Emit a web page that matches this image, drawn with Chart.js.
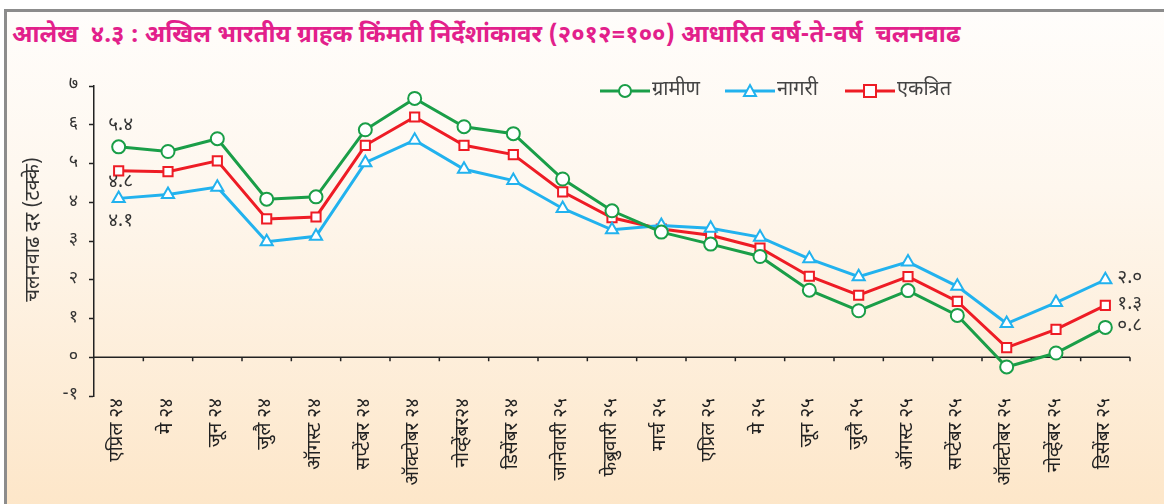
<!DOCTYPE html>
<html>
<head>
<meta charset="utf-8">
<script src="https://cdn.jsdelivr.net/npm/chart.js@4"></script>
<style>
  body { margin: 0; background: #fff; }
  #wrap { position: relative; width: 1164px; height: 504px; overflow: hidden; }
  #frame {
    position: absolute; left: 4px; top: 9px; right: -10px; bottom: -10px;
    border-left: 3px solid #8c8c8c; border-top: 3px solid #8c8c8c;
    background: linear-gradient(#fffdfb 0%, #fef7ee 35%, #fde6c8 100%);
  }
  #title {
    position: absolute; left: 12px; top: 20px;
    font: bold 24px "Noto Sans Devanagari", "Noto Sans", sans-serif;
    color: #e2208b; white-space: nowrap; line-height: 32px;
  }
  canvas { position: absolute; left: 0; top: 0; }
</style>
</head>
<body>
<div id="wrap">
  <div id="frame"></div>
  <div id="title">आलेख&nbsp; ४.३ : अखिल भारतीय ग्राहक किंमती निर्देशांकावर (२०१२=१००) आधारित वर्ष-ते-वर्ष&nbsp; चलनवाढ</div>
  <canvas id="chart" width="1164" height="504"></canvas>
</div>
<script>
const months = ["एप्रिल २४", "मे २४", "जून २४", "जुलै २४", "ऑगस्ट २४", "सप्टेंबर २४", "ऑक्टोबर २४",
  "नोव्हेंबर२४", "डिसेंबर २४", "जानेवारी २५", "फेब्रुवारी २५", "मार्च २५", "एप्रिल २५", "मे २५",
  "जून २५", "जुलै २५", "ऑगस्ट २५", "सप्टेंबर २५", "ऑक्टोबर २५", "नोव्हेंबर २५", "डिसेंबर २५"];

const rural = [5.43, 5.31, 5.64, 4.08, 4.14, 5.87, 6.68, 5.95, 5.77, 4.6, 3.78, 3.23, 2.92, 2.6, 1.73, 1.2, 1.72, 1.08, -0.25, 0.11, 0.77];
const urban = [4.1, 4.2, 4.39, 2.98, 3.12, 5.02, 5.6, 4.85, 4.56, 3.84, 3.29, 3.4, 3.33, 3.1, 2.54, 2.08, 2.46, 1.83, 0.87, 1.41, 2.0];
const combined = [4.81, 4.79, 5.07, 3.57, 3.62, 5.47, 6.2, 5.47, 5.23, 4.27, 3.6, 3.31, 3.15, 2.82, 2.09, 1.6, 2.08, 1.44, 0.25, 0.72, 1.34];

const yTickLabels = ["-१", "०", "१", "२", "३", "४", "५", "६", "७"];
const seriesNames = ["ग्रामीण", "नागरी", "एकत्रित"];
const yTitle = "चलनवाढ दर (टक्के)";

const devaDigits = "०१२३४५६७८९";
function toDeva(v) {
  return v.toFixed(1).replace(/[0-9]/g, d => devaDigits[+d]);
}

const FONT = '"Noto Sans Devanagari", "Noto Sans", sans-serif';
const GREEN = "#1a9e48", BLUE = "#22b2ee", RED = "#ee1c25";

// zero line with ticks at category boundaries, plus rotated y title
const zeroAxis = {
  id: "zeroAxis",
  beforeDatasetsDraw(chart) {
    const { ctx, chartArea, scales } = chart;
    const y0 = scales.y.getPixelForValue(0);
    ctx.save();
    ctx.strokeStyle = "#222";
    ctx.lineWidth = 1.5;
    ctx.beginPath();
    ctx.moveTo(chartArea.left, y0);
    ctx.lineTo(chartArea.right, y0);
    const n = months.length;
    for (let i = 0; i < n; i++) {
      const xb = i < n - 1 ? (scales.x.getPixelForValue(i) + scales.x.getPixelForValue(i + 1)) / 2 : chartArea.right;
      ctx.moveTo(xb, y0);
      ctx.lineTo(xb, y0 + 4);
    }
    ctx.stroke();

    ctx.translate(35, scales.y.getPixelForValue(3.3));
    ctx.rotate(-Math.PI / 2);
    ctx.font = "20px " + FONT;
    ctx.fillStyle = "#333";
    ctx.textAlign = "center";
    ctx.textBaseline = "middle";
    ctx.fillText(yTitle, 0, 0);
    ctx.restore();
  }
};

// value labels at first and last points
const endLabels = {
  id: "endLabels",
  afterDatasetsDraw(chart) {
    const { ctx } = chart;
    ctx.save();
    ctx.font = "19px " + FONT;
    ctx.fillStyle = "#333";
    chart.data.datasets.forEach((ds, i) => {
      const pts = chart.getDatasetMeta(i).data;
      const first = pts[0], last = pts[pts.length - 1];
      ctx.textAlign = "center";
      ctx.textBaseline = "middle";
      ctx.fillText(toDeva(ds.data[0]), first.x + 2, first.y + ds.firstLabelDy);
      ctx.textAlign = "left";
      ctx.fillText(toDeva(ds.data[ds.data.length - 1]), last.x + 12, last.y);
    });
    ctx.restore();
  }
};

// legend drawn as line-marker-line like the source
const lineLegend = {
  id: "lineLegend",
  afterDraw(chart) {
    const { ctx, chartArea } = chart;
    const starts = [506, 631, 751];
    const y = chartArea.top + 5;
    ctx.save();
    chart.data.datasets.forEach((ds, i) => {
      const x = chartArea.left + starts[i];
      ctx.strokeStyle = ds.borderColor;
      ctx.lineWidth = 3;
      ctx.beginPath();
      ctx.moveTo(x, y);
      ctx.lineTo(x + 50, y);
      ctx.stroke();
      ctx.fillStyle = "#fff";
      ctx.lineWidth = 2;
      ctx.beginPath();
      const cx = x + 25;
      if (ds.pointStyle === "circle") {
        ctx.arc(cx, y, 6, 0, Math.PI * 2);
      } else if (ds.pointStyle === "triangle") {
        ctx.moveTo(cx, y - 6);
        ctx.lineTo(cx + 6, y + 5);
        ctx.lineTo(cx - 6, y + 5);
        ctx.closePath();
      } else {
        ctx.rect(cx - 6, y - 6, 12, 12);
      }
      ctx.fill();
      ctx.stroke();
      ctx.fillStyle = "#444";
      ctx.font = "20px " + FONT;
      ctx.textAlign = "left";
      ctx.textBaseline = "middle";
      ctx.fillText(ds.label, x + 52, y);
    });
    ctx.restore();
  }
};

function makeSet(label, data, color, style, dy) {
  return {
    label, data,
    borderColor: color,
    backgroundColor: "#fff",
    borderWidth: 3,
    pointStyle: style,
    pointRadius: style === "triangle" ? 7 : 6.5,
    pointBorderWidth: 2,
    pointBackgroundColor: "#fff",
    pointBorderColor: color,
    tension: 0,
    firstLabelDy: dy
  };
}

new Chart(document.getElementById("chart"), {
  type: "line",
  data: {
    labels: months,
    datasets: [
      makeSet(seriesNames[0], rural, GREEN, "circle", -20),
      makeSet(seriesNames[1], urban, BLUE, "triangle", 24),
      makeSet(seriesNames[2], combined, RED, "rect", 13)
    ]
  },
  options: {
    responsive: false,
    animation: false,
    layout: { padding: { top: 86, right: 34, left: 0, bottom: 0 } },
    plugins: {
      legend: { display: false },
      tooltip: { enabled: false },
      title: { display: false }
    },
    scales: {
      x: {
        offset: true,
        grid: { display: false },
        border: { display: false },
        ticks: {
          minRotation: 90, maxRotation: 90, autoSkip: false,
          color: "#222", padding: -6,
          font: { family: FONT, size: 19 }
        },
        afterFit(scale) { scale.height = 108; }
      },
      y: {
        min: -1, max: 7,
        grid: { drawOnChartArea: false, drawTicks: true, tickLength: 5, tickColor: "#222", tickWidth: 1.5 },
        border: { display: true, color: "#222", width: 1.5 },
        ticks: {
          stepSize: 1, color: "#333", padding: 11,
          font: { family: FONT, size: 18 },
          callback: v => yTickLabels[v + 1]
        },
        afterFit(scale) { scale.width = 94; }
      }
    }
  },
  plugins: [zeroAxis, endLabels, lineLegend]
});
</script>
</body>
</html>
